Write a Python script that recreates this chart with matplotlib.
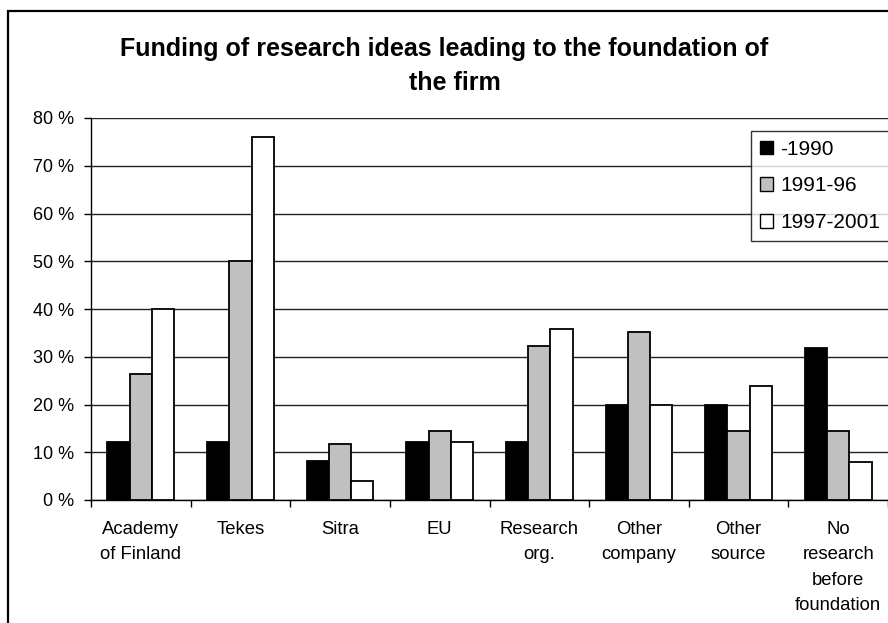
import matplotlib
matplotlib.use("Agg")
import matplotlib.pyplot as plt
import numpy as np
from matplotlib.patches import Rectangle, Patch

categories = ["Academy\nof Finland", "Tekes", "Sitra", "EU", "Research\norg.",
              "Other\ncompany", "Other\nsource", "No\nresearch\nbefore\nfoundation"]
series_names = ["-1990", "1991-96", "1997-2001"]
v_1990 = [12.1, 12.1, 8.2, 12.1, 12.1, 19.9, 19.9, 31.9]
v_1991_96 = [26.4, 50.0, 11.7, 14.5, 32.2, 35.2, 14.5, 14.5]
v_1997_2001 = [40.0, 76.0, 3.9, 12.1, 35.9, 19.9, 23.8, 8.0]
yticks = [0, 10, 20, 30, 40, 50, 60, 70, 80]
ytick_labels = ["0 %", "10 %", "20 %", "30 %", "40 %", "50 %", "60 %", "70 %", "80 %"]
title_lines = ["Funding of research ideas leading to the foundation of", "the firm"]

plt.rcParams['font.family'] = ['Liberation Sans', 'DejaVu Sans']

W, H = 888, 623
fig = plt.figure(figsize=(W / 100, H / 100), dpi=100)

# outer chart frame
fig.add_artist(Rectangle((8 / W, -0.1), 1.2, 1 - 11 / H + 0.1, transform=fig.transFigure,
                         fill=False, edgecolor='black', linewidth=1.6))

ax = fig.add_axes([91 / W, 1 - 500 / H, (888 - 91) / W, (500 - 118) / H])
x = np.arange(len(categories))
w = 0.223
colors = ['black', '#c0c0c0', 'white']
data = [v_1990, v_1991_96, v_1997_2001]
for i, (vals, c, name) in enumerate(zip(data, colors, series_names)):
    ax.bar(x + (i - 1) * w, vals, width=w, color=c, edgecolor='black', linewidth=1.3,
           label=name, zorder=3)

ax.set_xlim(-0.5, len(categories) - 0.5)
ax.set_ylim(0, 80)
ax.set_yticks(yticks)
ax.set_yticklabels(ytick_labels, fontsize=13)
ax.yaxis.grid(True, color='#222222', linewidth=1.0, zorder=0)
ax.set_xticks(x)
ax.set_xticklabels(categories, fontsize=13.3, linespacing=1.65, va='top')
ax.tick_params(axis='x', which='major', length=0, pad=15)
ax.set_xticks(np.arange(-0.5, len(categories), 1.0), minor=True)
ax.tick_params(axis='x', which='minor', length=5, width=1, color='black')
ax.tick_params(axis='y', length=5, width=1, pad=7)
for s in ['top', 'right']:
    ax.spines[s].set_visible(False)
ax.spines['left'].set_linewidth(1)
ax.spines['bottom'].set_linewidth(1)

handles = [Patch(facecolor=c, edgecolor='black', linewidth=1) for c in colors]
leg = fig.legend(handles, series_names, loc='upper left',
                 bbox_to_anchor=(751 / W, 1 - 131 / H), fontsize=15,
                 frameon=True, fancybox=False, edgecolor='black', handlelength=0.62,
                 handleheight=0.62, handletextpad=0.35, labelspacing=0.85,
                 borderpad=0.42, borderaxespad=0)
leg.get_frame().set_linewidth(1)

fig.text(444 / W, 1 - 56 / H, title_lines[0], ha='center', va='baseline', fontsize=18,
         fontweight='bold')
fig.text(455 / W, 1 - 90 / H, title_lines[1], ha='center', va='baseline', fontsize=18,
         fontweight='bold')

fig.savefig("out.png", dpi=100)
